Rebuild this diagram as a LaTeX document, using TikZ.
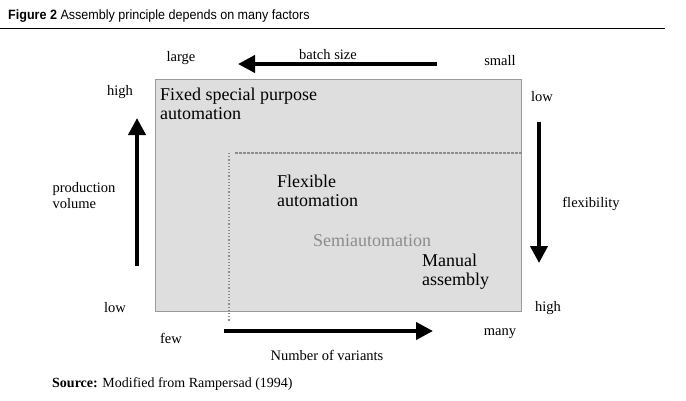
\documentclass[tikz,border=0pt]{standalone}
\usepackage{fontspec}
\setmainfont{Liberation Serif}
\newfontfamily\titlefont[FakeStretch=0.93]{Liberation Sans}
\usetikzlibrary{arrows.meta}
\definecolor{boxgrey}{HTML}{DEDEDE}
\definecolor{edgegrey}{HTML}{9A9A9A}
\definecolor{lightgrey}{HTML}{8C8C8C}
\tikzset{
 bigarrow/.style={line width=4pt,-{Triangle[length=17pt,width=17pt]}},
 lbl/.style={inner sep=0pt,font=\fontsize{14.5}{16}\selectfont},
 region/.style={inner sep=0pt,align=left,anchor=north west,font=\fontsize{18}{19}\selectfont},
}
\begin{document}
\begin{tikzpicture}[x=1pt,y=-1pt]
 \useasboundingbox[fill=white] (0,0) rectangle (686,400);

 %Title
 \node[anchor=base west,inner sep=0pt,font=\titlefont\fontsize{13.5}{14}\selectfont] (title) at (8,19) {\textbf{Figure 2} Assembly principle depends on many factors};
 \draw[line width=0.8pt] (0,28) -- (665,28);

 %Box
 \draw[edgegrey,fill=boxgrey] (155,79) rectangle (521,311);
 \draw[lightgrey,line width=1.2pt,dotted] (229,153) -- (229,321);
 \draw[lightgrey,line width=1.2pt,dash pattern=on 2.5pt off 1.5pt] (235,153) -- (523,153);

 %Regions
 \node[region] (fixed) at (160,88) {Fixed special purpose\\automation};
 \node[region] (flex) at (277,175) {Flexible\\automation};
 \node[region,lightgrey] (semi) at (313,234) {Semiautomation};
 \node[region] (manual) at (422,254) {Manual\\assembly};

 %Batch size
 \coordinate (bs1) at (437,64);
 \coordinate (bs2) at (238,64);
 \draw[bigarrow] (bs1) -- (bs2);
 \node[lbl] (batch) at (328,55) {batch size};
 \node[lbl] (large) at (181,58) {large};
 \node[lbl] (small) at (500,61) {small};

 %Production volume
 \coordinate (pv1) at (137,266);
 \coordinate (pv2) at (137,118);
 \draw[bigarrow] (pv1) -- (pv2);
 \node[lbl,align=left] (prod) at (84,196) {production\\volume};
 \node[lbl] (pvhigh) at (120,92) {high};
 \node[lbl] (pvlow) at (115,308) {low};

 %Flexibility
 \coordinate (fl1) at (539,122);
 \coordinate (fl2) at (539,263);
 \draw[bigarrow] (fl1) -- (fl2);
 \node[lbl] (flexi) at (591,204) {flexibility};
 \node[lbl] (fllow) at (542,97) {low};
 \node[lbl] (flhigh) at (548,308) {high};

 %Variants
 \coordinate (nv1) at (224,331);
 \coordinate (nv2) at (433,331);
 \draw[bigarrow] (nv1) -- (nv2);
 \node[lbl] (variants) at (327,355) {Number of variants};
 \node[lbl] (few) at (171,338) {few};
 \node[lbl] (many) at (500,334) {many};

 %Source
 \node[anchor=base west,inner sep=0pt,font=\fontsize{14}{15}\selectfont] (source) at (52,387) {\textbf{Source:} Modified from Rampersad (1994)};

\end{tikzpicture}
\end{document}
